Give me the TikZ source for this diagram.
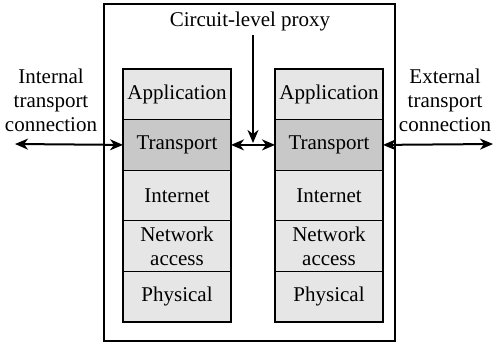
\documentclass[tikz,border=0pt]{standalone}
\usepackage{fontspec}
\setmainfont{Liberation Serif}
\usetikzlibrary{positioning,arrows.meta}
\definecolor{layerfill}{HTML}{E6E6E6}
\definecolor{trfill}{HTML}{C8C8C8}
\begin{document}
\begin{tikzpicture}[
  x=0.5pt, y=-0.5pt,
  font=\fontsize{10.5}{12}\selectfont,
  arr/.style={{Stealth[length=6.5pt,width=5.5pt,inset=2pt]}-{Stealth[length=6.5pt,width=5.5pt,inset=2pt]}, line width=1pt},
  down/.style={-{Stealth[length=6.5pt,width=5.5pt,inset=2pt]}, line width=1pt},
  hdr/.style={align=center},
  layer/.style={
    draw,
    fill=layerfill,
    line width=0.6pt,
    inner sep=0pt,
    outer sep=0pt,
    align=center,
    minimum width=54pt,
    minimum height=25.3pt
  },
  hilayer/.style={layer, fill=trfill}
]
\useasboundingbox (0,0) rectangle (501,343);

% -------------------------------------------------
% Column x-positions
% -------------------------------------------------
\def\xL{177}
\def\xR{329}

% -------------------------------------------------
% Proxy box
% -------------------------------------------------
\node[draw, line width=0.6pt, minimum width=145.5pt, minimum height=168.5pt] (gw) at (249.5,172.5) {};
\node[hdr] (proxy) at (250,21) {Circuit-level proxy};

% -------------------------------------------------
% Left stack
% -------------------------------------------------
\node[layer] (app1) at (\xL,94.3) {Application};
\node[hilayer, below=0pt of app1] (tr1) {Transport};
\node[layer, below=0pt of tr1] (ip1) {Internet};
\node[layer, below=0pt of ip1] (na1) {Network\\access};
\node[layer, below=0pt of na1] (ph1) {Physical};

% -------------------------------------------------
% Right stack
% -------------------------------------------------
\node[layer] (app2) at (\xR,94.3) {Application};
\node[hilayer, below=0pt of app2] (tr2) {Transport};
\node[layer, below=0pt of tr2] (ip2) {Internet};
\node[layer, below=0pt of ip2] (na2) {Network\\access};
\node[layer, below=0pt of na2] (ph2) {Physical};

% -------------------------------------------------
% Side labels
% -------------------------------------------------
\node[hdr] (inlbl) at (51,100) {Internal\\transport\\connection};
\node[hdr] (exlbl) at (445,100) {External\\transport\\connection};

% -------------------------------------------------
% ARROWS
% -------------------------------------------------
\coordinate (inend) at (15,144);
\coordinate (exend) at (493,144);
\coordinate (ptop) at (253,35);
\coordinate (pbot) at (253,143);

\draw[arr] (inend) -- (tr1.west);
\draw[arr] (tr1.east) -- (tr2.west);
\draw[arr] (tr2.east) -- (exend);
\draw[down] (ptop) -- (pbot);

\end{tikzpicture}
\end{document}
